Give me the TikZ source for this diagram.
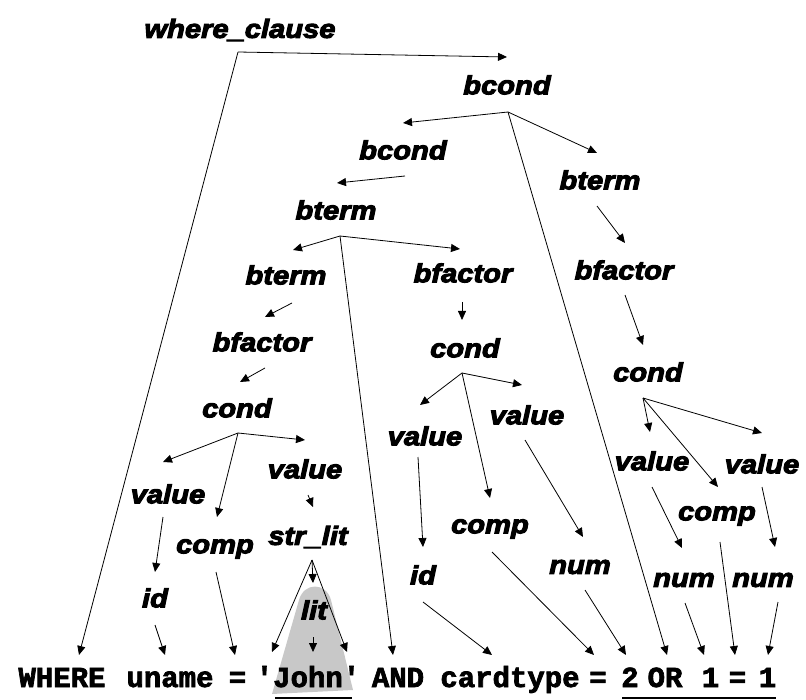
\documentclass[tikz,border=0pt]{standalone}
\usepackage{fontspec}
\usetikzlibrary{arrows.meta}
\newfontfamily\treefont{Liberation Sans}[FakeStretch=1.12,FakeBold=4]
\newfontfamily\codefont{Liberation Mono}[FakeBold=2.5]
\definecolor{litgray}{RGB}{200,200,200}
\newcommand\tedge[6]{\draw[arr] ([shift={(#2,#3)}]#1) -- ([shift={(#5,#6)}]#4);}
\begin{document}
\begin{tikzpicture}[x=1pt,y=-1pt,
  lbl/.style={font=\treefont\bfseries\itshape\fontsize{26}{30}\selectfont, inner sep=0pt},
  tok/.style={font=\codefont\bfseries\fontsize{29}{34}\selectfont, inner sep=0pt, anchor=base},
  arr/.style={-{Triangle[length=9pt,width=8pt]}, line width=0.8pt},
  uline/.style={line width=1.6pt}]
\useasboundingbox (0,0) rectangle (806,700);
% grey highlight behind lit / 'John'
\fill[litgray] (272,694) -- (299,600) .. controls (304,582) and (326,582) .. (331,600) -- (353,690) -- cycle;
% tree labels
\node[lbl] (wc)    at (240,30)  {where\_clause};
\node[lbl] (bc1)   at (507,85)  {bcond};
\node[lbl] (bc2)   at (403,150) {bcond};
\node[lbl] (bt1)   at (336,210) {bterm};
\node[lbl] (btR)   at (600,180) {bterm};
\node[lbl] (bt2)   at (286,275) {bterm};
\node[lbl] (bfM)   at (463,273) {bfactor};
\node[lbl] (bfR)   at (624,270) {bfactor};
\node[lbl] (bfL)   at (262,342) {bfactor};
\node[lbl] (cdM)   at (465,348) {cond};
\node[lbl] (cdR)   at (648,372) {cond};
\node[lbl] (cdL)   at (237,408) {cond};
\node[lbl] (vLL)   at (168,494) {value};
\node[lbl] (vLS)   at (305,469) {value};
\node[lbl] (cpL)   at (215,549) {comp};
\node[lbl] (slit)  at (308,537) {str\_lit};
\node[lbl] (idL)   at (155,598) {id};
\node[lbl] (lit)   at (314,610) {lit};
\node[lbl] (vML)   at (425,436) {value};
\node[lbl] (vMR)   at (527,415) {value};
\node[lbl] (cpM)   at (490,529) {comp};
\node[lbl] (idM)   at (423,575) {id};
\node[lbl] (numM)  at (580,567) {num};
\node[lbl] (vRL)   at (652,461) {value};
\node[lbl] (vRR)   at (762,464) {value};
\node[lbl] (cpR)   at (717,516) {comp};
\node[lbl] (numRL) at (684,580) {num};
\node[lbl] (numRR) at (763,580) {num};
% tokens
\node[tok] (tWHERE) at (62,687)    {WHERE};
\node[tok] (tuname) at (170,687)   {uname};
\node[tok] (teqA)   at (237.5,687) {=};
\node[tok] (tJohn)  at (308,687)   {'John'};
\node[tok] (tAND)   at (398,687)   {AND};
\node[tok] (tcard)  at (510,687)   {cardtype};
\node[tok] (teqB)   at (598,687)   {=};
\node[tok] (tTwo)   at (630,687)   {2};
\node[tok] (tOR)    at (665,687)   {OR};
\node[tok] (tOneA)  at (710.5,687) {1};
\node[tok] (teqC)   at (737.5,687) {=};
\node[tok] (tOneB)  at (767.5,687) {1};
% underlines
\draw[uline] ([shift={(-33,11)}]tJohn.base) -- ([shift={(44,11)}]tJohn.base);
\draw[uline] ([shift={(-8,11)}]tTwo.base) -- ([shift={(8.5,11)}]tOneB.base);
% connectors
\tedge{wc.center}{-2}{22}{bc1.center}{0}{-28}
\tedge{wc.center}{-2}{22}{tWHERE.base}{17}{-32}
\tedge{bc1.center}{1}{27}{bc2.center}{0}{-27}
\tedge{bc1.center}{1}{27}{btR.center}{-3}{-27}
\tedge{bc1.center}{1}{27}{tOR.base}{2}{-32}
\tedge{bc2.center}{2}{26}{bt1.center}{1}{-27}
\tedge{bt1.center}{4}{26}{bt2.center}{7}{-25}
\tedge{bt1.center}{4}{26}{bfM.center}{-3}{-24}
\tedge{bt1.center}{4}{26}{tAND.base}{-5}{-32}
\tedge{bt2.center}{6}{28}{bfL.center}{3}{-25}
\tedge{bfL.center}{3}{26}{cdL.center}{3}{-26}
\tedge{bfM.center}{-1}{29}{cdM.center}{-3}{-28}
\tedge{btR.center}{-3}{26}{bfR.center}{1}{-27}
\tedge{bfR.center}{1}{25}{cdR.center}{-5}{-27}
\tedge{cdL.center}{1}{25}{vLL.center}{-5}{-32}
\tedge{cdL.center}{1}{25}{cpL.center}{2}{-32}
\tedge{cdL.center}{1}{25}{vLS.center}{0}{-29}
\tedge{vLL.center}{-5}{23}{idL.center}{0}{-26}
\tedge{vLS.center}{3}{26}{slit.center}{5}{-30}
\tedge{idL.center}{0}{27}{tuname.base}{-5}{-32}
\tedge{cpL.center}{1}{23}{teqA.base}{-2.5}{-32}
\tedge{slit.center}{4}{23}{tJohn.base}{-36}{-35}
\tedge{slit.center}{4}{23}{lit.center}{-1}{-27}
\tedge{slit.center}{4}{23}{tJohn.base}{39}{-35}
\tedge{lit.center}{-1}{27}{tJohn.base}{5}{-35}
\tedge{cdM.center}{-3}{25}{vML.center}{-5}{-31}
\tedge{cdM.center}{-3}{25}{cpM.center}{0}{-31}
\tedge{cdM.center}{-3}{25}{vMR.center}{-5}{-30}
\tedge{vML.center}{-7}{21}{idM.center}{0}{-28}
\tedge{vMR.center}{-2}{25}{numM.center}{3}{-30}
\tedge{idM.center}{0}{27}{tcard.base}{-18}{-32}
\tedge{cpM.center}{2}{23}{teqB.base}{-4}{-32}
\tedge{numM.center}{5}{23}{tTwo.base}{-4}{-32}
\tedge{cdR.center}{-5}{26}{vRL.center}{-2}{-29}
\tedge{cdR.center}{-5}{26}{cpR.center}{1}{-29}
\tedge{cdR.center}{-5}{26}{vRR.center}{0}{-31}
\tedge{vRL.center}{0}{26}{numRL.center}{-2}{-32}
\tedge{vRR.center}{0}{23}{numRR.center}{12}{-33}
\tedge{cpR.center}{3}{26}{teqC.base}{-2.5}{-32}
\tedge{numRL.center}{1}{23}{tOneA.base}{-6.5}{-32}
\tedge{numRR.center}{15}{22}{tOneB.base}{0.5}{-32}
\end{tikzpicture}
\end{document}
